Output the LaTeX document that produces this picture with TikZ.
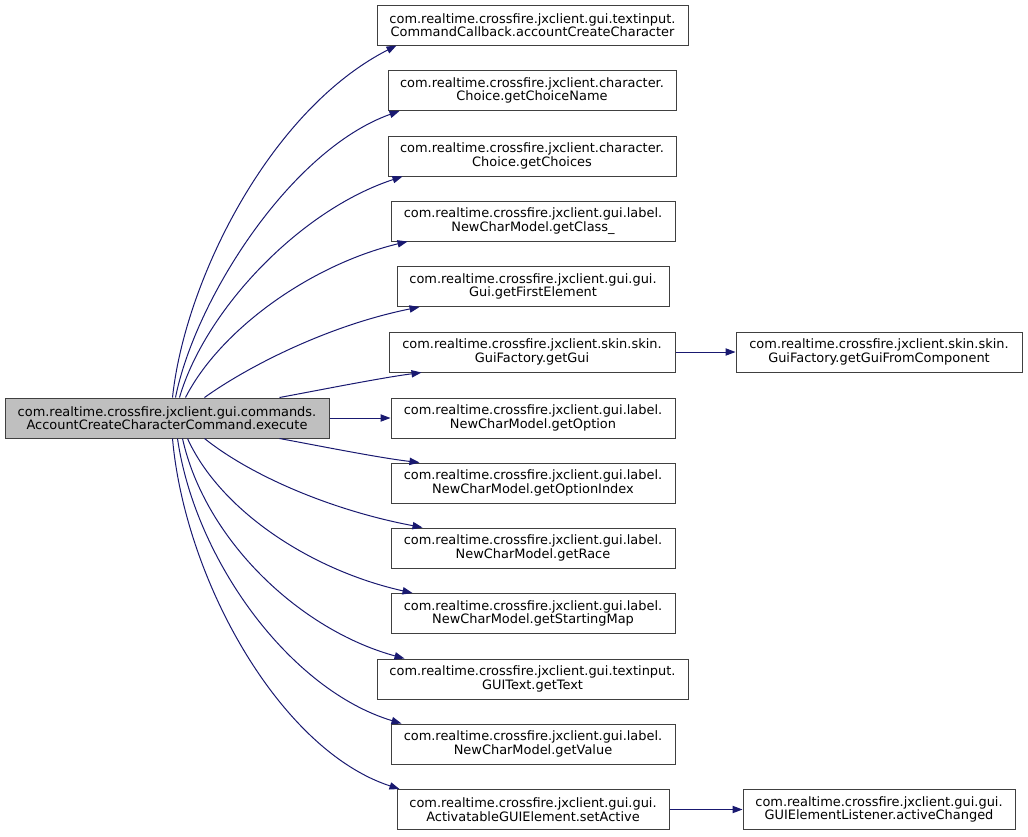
\documentclass[tikz,border=0pt]{standalone}
\usepackage{fontspec}
\setmainfont{DejaVu Sans}
\usetikzlibrary{calc,arrows.meta}
\definecolor{edgecol}{HTML}{191970}
\definecolor{boxline}{HTML}{404040}
\definecolor{rootfill}{HTML}{BFBFBF}
\tikzset{
  box/.style={draw=boxline, line width=0.75pt, fill=white, minimum height=30pt, inner sep=0pt, align=center, font=\fontsize{9.7}{10.2}\selectfont},
  rootbox/.style={box, fill=rootfill},
  edge/.style={draw=edgecol, line width=0.75pt, -{Triangle[length=7.5pt,width=5.5pt]}},
}
\begin{document}
\begin{tikzpicture}[x=0.75pt,y=-0.75pt]
\useasboundingbox (0,0) rectangle (1028,836);
\node[rootbox, minimum width=243pt] (root) at (167,418) {com.realtime.crossfire.jxclient.gui.commands.\\AccountCreateCharacterCommand.execute};
\node[box, minimum width=233.25pt] (b1) at (532.5,25) {com.realtime.crossfire.jxclient.gui.textinput.\\CommandCallback.accountCreateCharacter};
\node[box, minimum width=216pt] (b2) at (532,90.5) {com.realtime.crossfire.jxclient.character.\\Choice.getChoiceName};
\node[box, minimum width=216pt] (b3) at (532,156) {com.realtime.crossfire.jxclient.character.\\Choice.getChoices};
\node[box, minimum width=213pt] (b4) at (533,221) {com.realtime.crossfire.jxclient.gui.label.\\NewCharModel.getClass\_};
\node[box, minimum width=204pt] (b5) at (533,286.5) {com.realtime.crossfire.jxclient.gui.gui.\\Gui.getFirstElement};
\node[box, minimum width=214.5pt] (b6) at (532,352) {com.realtime.crossfire.jxclient.skin.skin.\\GuiFactory.getGui};
\node[box, minimum width=213pt] (b7) at (533,418) {com.realtime.crossfire.jxclient.gui.label.\\NewCharModel.getOption};
\node[box, minimum width=213pt] (b8) at (533,483) {com.realtime.crossfire.jxclient.gui.label.\\NewCharModel.getOptionIndex};
\node[box, minimum width=213pt] (b9) at (533,548) {com.realtime.crossfire.jxclient.gui.label.\\NewCharModel.getRace};
\node[box, minimum width=213pt] (b10) at (533,613.5) {com.realtime.crossfire.jxclient.gui.label.\\NewCharModel.getStartingMap};
\node[box, minimum width=233.25pt] (b11) at (532.5,679) {com.realtime.crossfire.jxclient.gui.textinput.\\GUIText.getText};
\node[box, minimum width=213pt] (b12) at (533,744) {com.realtime.crossfire.jxclient.gui.label.\\NewCharModel.getValue};
\node[box, minimum width=204pt] (b13) at (533,809.5) {com.realtime.crossfire.jxclient.gui.gui.\\ActivatableGUIElement.setActive};
\node[box, minimum width=214.5pt] (c6) at (879,352) {com.realtime.crossfire.jxclient.skin.skin.\\GuiFactory.getGuiFromComponent};
\node[box, minimum width=204pt] (c13) at (879,809.5) {com.realtime.crossfire.jxclient.gui.gui.\\GUIElementListener.activeChanged};

\draw[edge] ($(root.north west)+(168,0)$) .. controls (185,280) and (270,110) .. ($(b1.south west)+(20,0)$);
\draw[edge] ($(root.north west)+(171,0)$) .. controls (195,300) and (290,150) .. ($(b2.south west)+(12,0)$);
\draw[edge] ($(root.north west)+(175,0)$) .. controls (205,310) and (300,210) .. ($(b3.south west)+(15,0)$);
\draw[edge] ($(root.north west)+(181,0)$) .. controls (220,330) and (310,265) .. ($(b4.south west)+(17,0)$);
\draw[edge] ($(root.north west)+(200,0)$) .. controls (250,365) and (330,325) .. ($(b5.south west)+(23,0)$);
\draw[edge] ($(root.north west)+(275,0)$) .. controls (320,390) and (380,378) .. ($(b6.south west)+(33,0)$);
\draw[edge] (root.east) -- (b7.west);
\draw[edge] ($(root.south west)+(275,0)$) .. controls (320,446) and (380,458) .. ($(b8.north west)+(29,0)$);
\draw[edge] ($(root.south west)+(200,0)$) .. controls (250,475) and (330,510) .. ($(b9.north west)+(32,0)$);
\draw[edge] ($(root.south west)+(183,0)$) .. controls (220,510) and (310,570) .. ($(b10.north west)+(22,0)$);
\draw[edge] ($(root.south west)+(178,0)$) .. controls (205,540) and (300,630) .. ($(b11.north west)+(28,0)$);
\draw[edge] ($(root.south west)+(173,0)$) .. controls (195,560) and (290,690) .. ($(b12.north west)+(11,0)$);
\draw[edge] ($(root.south west)+(168,0)$) .. controls (185,580) and (280,750) .. ($(b13.north west)+(3,0)$);
\draw[edge] (b6.east) -- (c6.west);
\draw[edge] (b13.east) -- (c13.west);
\end{tikzpicture}
\end{document}
